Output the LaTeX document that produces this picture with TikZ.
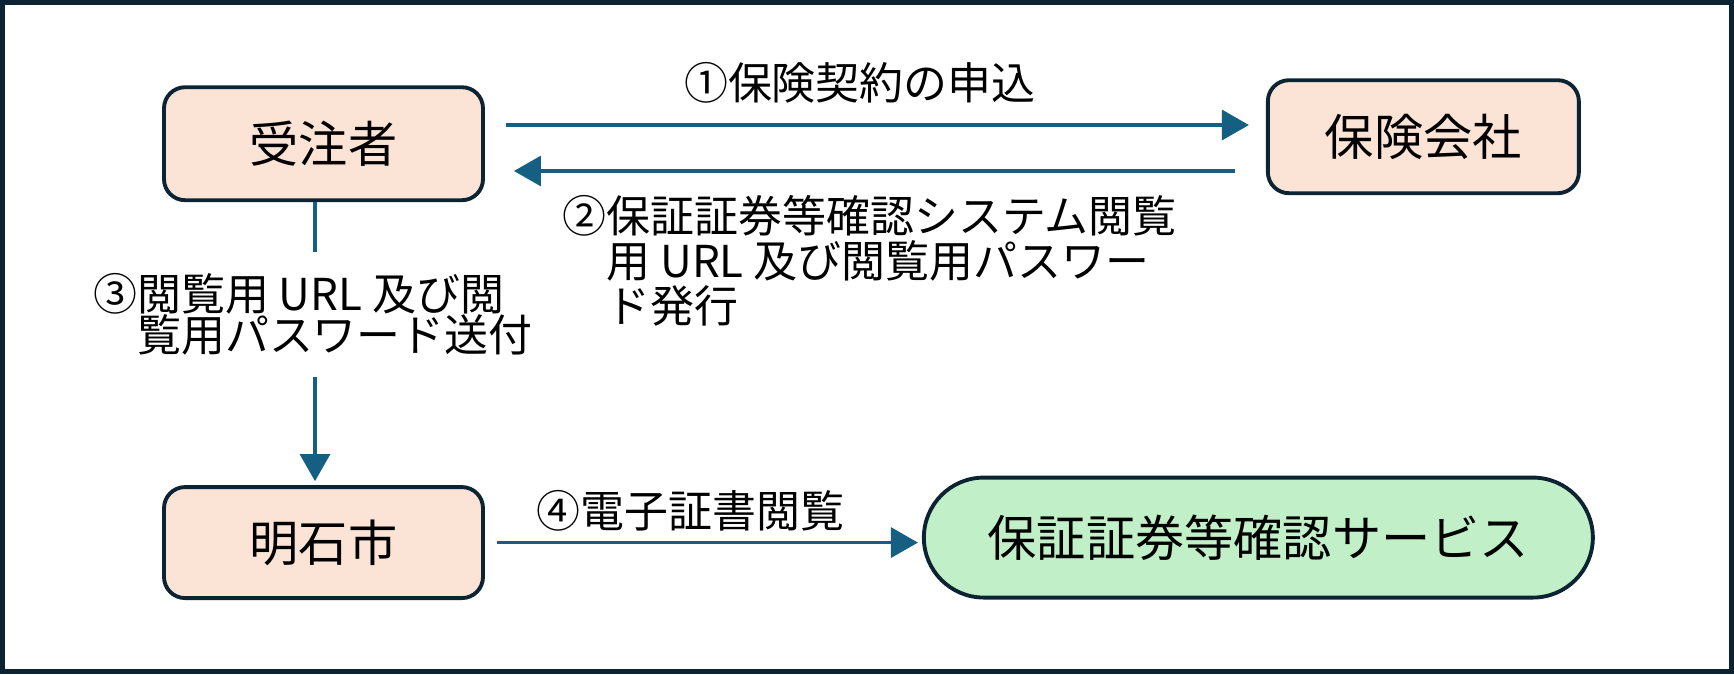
\documentclass[tikz,border=0pt]{standalone}
\usepackage{fontspec}
\setmainfont{Noto Sans CJK JP}
\usetikzlibrary{arrows.meta,positioning}
\definecolor{framecol}{RGB}{12,35,51}
\definecolor{boxpeach}{RGB}{251,227,214}
\definecolor{boxmint}{RGB}{193,240,200}
\definecolor{arrowblue}{RGB}{21,96,130}
\tikzset{
  basebox/.style={rectangle,rounded corners=6pt,draw=framecol,line width=1.1pt,align=center,font=\fontsize{14}{16}\selectfont},
  partynode/.style={basebox,fill=boxpeach,minimum width=3.19cm,minimum height=1.13cm},
  servicenode/.style={basebox,fill=boxmint,rounded corners=0.6cm,minimum width=6.69cm,minimum height=1.2cm},
  labelnode/.style={align=left,text=black,font=\fontsize{12.5}{12.8}\selectfont,inner sep=0pt},
  arr/.style={-{Triangle[length=0.27cm,width=0.3cm]},line width=0.9pt,color=arrowblue},
  plainline/.style={line width=0.9pt,color=arrowblue}
}

\begin{document}
\begin{tikzpicture}
  \useasboundingbox (0,0) rectangle (17.34,6.74);
  %% outer frame
  \draw[framecol,line width=0.05cm] (0.025,0.025) rectangle (17.315,6.715);

  %% parties
  \node[partynode] (ju) at (3.235,5.303) {受注者};
  \node[partynode,right=7.81cm of ju,yshift=0.07cm,minimum width=3.11cm] (hoken) {保険会社};
  \node[partynode,below=2.83cm of ju,minimum height=1.11cm] (akashi) {明石市};

  %% service
  \node[servicenode,right=4.37cm of akashi,yshift=0.05cm] (service) {保証証券等確認サービス};

  %% labels
  \node[labelnode,anchor=north west] (lbl2) at (5.62,4.79)
    {②保証証券等確認システム閲覧\\\hspace*{1em}用 URL 及び閲覧用パスワー\\\hspace*{1em}ド発行};
  \node[labelnode,inner sep=0.21cm,font=\fontsize{12.5}{11.7}\selectfont] (lbl3) at (3.13,3.595)
    {③閲覧用 URL 及び閲\\\hspace*{1em}覧用パスワード送付};

  \draw[arr,shorten <=0.21cm,shorten >=0.17cm] ([yshift=0.187cm]ju.east) -- ([yshift=0.187cm]ju.east -| hoken.west)
      node[labelnode,above=0.2cm,pos=0.48] (lbl1) {①保険契約の申込};
  \draw[arr,shorten <=0.31cm,shorten >=0.29cm] ([yshift=-0.273cm]ju.east -| hoken.west) -- ([yshift=-0.273cm]ju.east);
  \draw[plainline] ([xshift=-0.085cm]ju.south) -- ([xshift=-0.085cm]ju.south |- lbl3.north);
  \draw[arr,shorten >=0.04cm] ([xshift=-0.085cm]akashi.north |- lbl3.south) -- ([xshift=-0.085cm]akashi.north);
  \draw[arr,shorten <=0.12cm,shorten >=0.04cm] (akashi.east) -- (akashi.east -| service.west)
      node[labelnode,above=0.1cm,pos=0.47] (lbl4) {④電子証書閲覧};
\end{tikzpicture}
\end{document}
